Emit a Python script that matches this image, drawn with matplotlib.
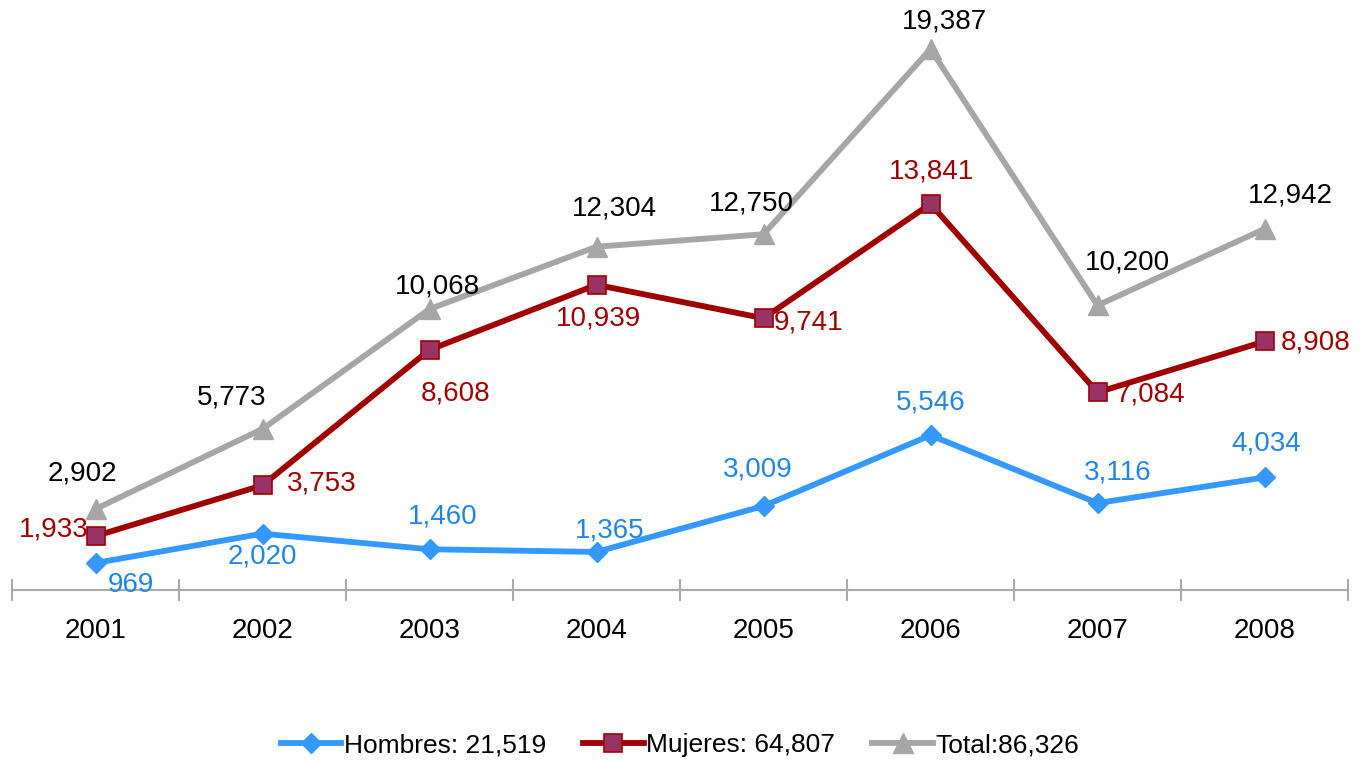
import matplotlib.pyplot as plt

years = ["2001", "2002", "2003", "2004", "2005", "2006", "2007", "2008"]
hombres = [969, 2020, 1460, 1365, 3009, 5546, 3116, 4034]
mujeres = [1933, 3753, 8608, 10939, 9741, 13841, 7084, 8908]
total = [2902, 5773, 10068, 12304, 12750, 19387, 10200, 12942]

legend_labels = ["Hombres: 21,519", "Mujeres: 64,807", "Total:86,326"]

# label offsets in pixels (dx, dy) relative to each point
off_total = [(-13, 36), (-31, 31), (8, 23), (18, 38), (-12, 31), (14, 28), (30, 43), (26, 33)]
off_muj = [(-42, 7), (59, 2), (26, -44), (2, -34), (45, -4), (1, 32), (53, -2), (51, -1)]
off_hom = [(35, -22), (0, -23), (13, 33), (13, 21), (-6, 37), (0, 33), (20, 31), (2, 34)]

plt.rcParams['font.family'] = ['Liberation Sans', 'DejaVu Sans']

c_hom = '#3399FF'
c_hom_txt = '#1F86E8'
c_muj = '#A00000'
c_muj_face = '#993366'
c_tot = '#A6A6A6'

fig = plt.figure(figsize=(13.6, 7.6), dpi=100)
ax = fig.add_axes([12 / 1360, 1 - 590 / 760, 1336 / 1360, 590 / 760])
x = list(range(len(years)))

ax.plot(x, total, color=c_tot, lw=4.2, marker='^', ms=14, mfc=c_tot, mec=c_tot,
        label=legend_labels[2], zorder=2)
ax.plot(x, mujeres, color=c_muj, lw=4.2, marker='s', ms=13, mfc=c_muj_face, mec=c_muj,
        mew=1.2, label=legend_labels[1], zorder=3)
ax.plot(x, hombres, color=c_hom, lw=4.2, marker='D', ms=10, mfc=c_hom, mec=c_hom,
        label=legend_labels[0], zorder=4)

fs = 20
for i in x:
    ax.annotate(f"{total[i]:,}", (i, total[i]), xytext=off_total[i], textcoords='offset pixels',
                ha='center', va='center', fontsize=fs, color='black')
    ax.annotate(f"{mujeres[i]:,}", (i, mujeres[i]), xytext=off_muj[i], textcoords='offset pixels',
                ha='center', va='center', fontsize=fs, color=c_muj)
    ax.annotate(f"{hombres[i]:,}", (i, hombres[i]), xytext=off_hom[i], textcoords='offset pixels',
                ha='center', va='center', fontsize=fs, color=c_hom_txt)

ax.set_xlim(-0.5, len(years) - 0.5)
ax.set_ylim(0, 590 / 0.0279)
for s in ['top', 'right', 'left']:
    ax.spines[s].set_visible(False)
ax.spines['bottom'].set_color('#AAAAAA')
ax.spines['bottom'].set_linewidth(1.5)
ax.set_yticks([])

ax.set_xticks(x)
ax.set_xticklabels(years, fontsize=fs)
ax.tick_params(axis='x', which='major', length=0, pad=20)
ax.set_xticks([i - 0.5 for i in range(len(years) + 1)], minor=True)
ax.tick_params(axis='x', which='minor', length=16, width=1.5, color='#AAAAAA', direction='inout')

handles, labels = ax.get_legend_handles_labels()
order = [2, 1, 0]
fig.legend([handles[i] for i in order], [labels[i] for i in order], loc='center',
           bbox_to_anchor=(0.5, 1 - 745 / 760), ncol=3, frameon=False, fontsize=19,
           handlelength=2.3, handletextpad=0.1, columnspacing=1.4)

fig.savefig('out.png', dpi=100)
